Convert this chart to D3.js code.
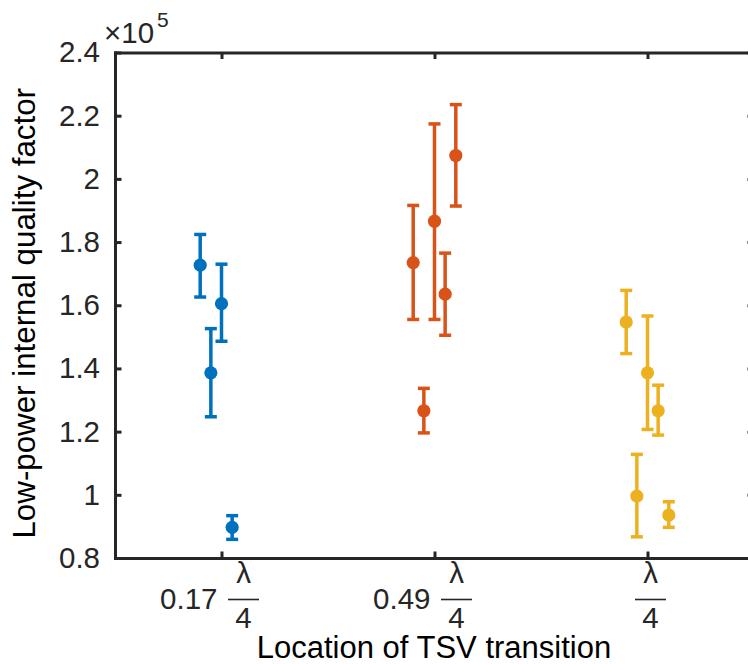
<!DOCTYPE html>
<html>
<head>
<meta charset="utf-8">
<script src="https://cdn.jsdelivr.net/npm/d3@7"></script>
<style>
  html, body { margin: 0; padding: 0; background: #fff; }
  svg { display: block; font-family: "Liberation Sans", Arial, Helvetica, sans-serif; }
</style>
</head>
<body>
<svg id="chart" width="748" height="664"></svg>
<script>
// Category positions on the x axis and their tick labels (coefficient × λ/4)
const categories = [1, 2, 3];
const tickCoefficients = ["0.17", "0.49", ""];
const yTicks = [0.8, 1, 1.2, 1.4, 1.6, 1.8, 2, 2.2, 2.4];

// Quality factor values in units of 1e5; offsets spread resonators within a category
const blueOffsets = [-0.1, -0.05, 0, 0.05];
const blueMean = [1.727, 1.386, 1.605, 0.897];
const blueLow  = [1.626, 1.247, 1.486, 0.859];
const blueHigh = [1.824, 1.526, 1.730, 0.934];

const orangeOffsets = [-0.1, -0.05, 0, 0.05, 0.1];
const orangeMean = [1.735, 1.266, 1.866, 1.635, 2.074];
const orangeLow  = [1.555, 1.196, 1.555, 1.505, 1.914];
const orangeHigh = [1.916, 1.337, 2.174, 1.765, 2.235];

const yellowOffsets = [-0.1, -0.05, 0, 0.05, 0.1];
const yellowMean = [1.547, 0.996, 1.386, 1.266, 0.936];
const yellowLow  = [1.447, 0.867, 1.207, 1.189, 0.897];
const yellowHigh = [1.647, 1.128, 1.566, 1.347, 0.978];

const series = [
  { cat: 1, color: "#0072BD", off: blueOffsets,   mean: blueMean,   lo: blueLow,   hi: blueHigh },
  { cat: 2, color: "#D95319", off: orangeOffsets, mean: orangeMean, lo: orangeLow, hi: orangeHigh },
  { cat: 3, color: "#EDB120", off: yellowOffsets, mean: yellowMean, lo: yellowLow, hi: yellowHigh }
];

const axisColor = "#262626";
const tickFont = 29.5;
const plotLeft = 115, plotRight = 754, plotTop = 52.5, plotBottom = 558;

const svg = d3.select("#chart");
const x = d3.scaleLinear().domain([0.5, 3.5]).range([plotLeft, plotRight]);
const y = d3.scaleLinear().domain([0.8, 2.4]).range([plotBottom, plotTop]);

// Error bars and markers
series.forEach(s => {
  const pts = s.mean.map((m, i) => ({ x: s.cat + s.off[i], m, lo: s.lo[i], hi: s.hi[i] }));
  const g = svg.append("g").attr("stroke", s.color).attr("fill", s.color);
  const capHalf = 6;
  pts.forEach(p => {
    const px = x(p.x);
    g.append("line").attr("x1", px).attr("x2", px).attr("y1", y(p.lo)).attr("y2", y(p.hi)).attr("stroke-width", 3.5);
    g.append("line").attr("x1", px - capHalf).attr("x2", px + capHalf).attr("y1", y(p.lo)).attr("y2", y(p.lo)).attr("stroke-width", 3.5);
    g.append("line").attr("x1", px - capHalf).attr("x2", px + capHalf).attr("y1", y(p.hi)).attr("y2", y(p.hi)).attr("stroke-width", 3.5);
  });
  g.selectAll("circle").data(pts).enter().append("circle")
    .attr("cx", d => x(d.x)).attr("cy", d => y(d.m)).attr("r", 6.6).attr("stroke", "none");
});

// Axes: box with inward ticks on all four sides
function styleAxis(g) {
  g.select(".domain").attr("stroke", axisColor).attr("stroke-width", 3).attr("stroke-linecap", "square");
  g.selectAll(".tick line").attr("stroke", axisColor).attr("stroke-width", 3);
}
const tickLen = 6.5;
svg.append("g").attr("transform", `translate(${plotLeft},0)`)
  .call(d3.axisLeft(y).tickValues(yTicks).tickSizeInner(-tickLen).tickSizeOuter(0).tickPadding(15).tickFormat(d3.format("~g")))
  .call(styleAxis)
  .call(g => g.selectAll(".tick text").attr("fill", axisColor).attr("font-size", tickFont).attr("font-family", "Liberation Sans, Arial, sans-serif"));
svg.append("g").attr("transform", `translate(${plotRight},0)`)
  .call(d3.axisRight(y).tickValues(yTicks).tickSizeInner(-tickLen).tickSizeOuter(0).tickFormat(""))
  .call(styleAxis);
svg.append("g").attr("transform", `translate(0,${plotBottom})`)
  .call(d3.axisBottom(x).tickValues(categories).tickSizeInner(-tickLen).tickSizeOuter(0).tickFormat(""))
  .call(styleAxis);
svg.append("g").attr("transform", `translate(0,${plotTop})`)
  .call(d3.axisTop(x).tickValues(categories).tickSizeInner(-tickLen).tickSizeOuter(0).tickFormat(""))
  .call(styleAxis);

// Bottom tick labels: optional coefficient followed by the fraction λ/4
categories.forEach((c, i) => {
  const coef = tickCoefficients[i];
  const fracCx = x(c) + (coef ? 22 : 3);
  const g = svg.append("g").attr("fill", axisColor).attr("font-size", tickFont);
  if (coef) {
    g.append("text").attr("x", fracCx - 26).attr("y", 609).attr("text-anchor", "end").text(coef);
  }
  g.append("text").attr("x", fracCx).attr("y", 583).attr("text-anchor", "middle").text("λ");
  g.append("line").attr("x1", fracCx - 15.5).attr("x2", fracCx + 15.5).attr("y1", 599.5).attr("y2", 599.5)
    .attr("stroke", axisColor).attr("stroke-width", 1.6);
  g.append("text").attr("x", fracCx).attr("y", 628).attr("text-anchor", "middle").text("4");
});

// Exponent multiplier above the y axis
const mult = svg.append("text").attr("x", 104).attr("y", 43).attr("fill", axisColor).attr("font-size", tickFont);
mult.append("tspan").text("×10");
mult.append("tspan").attr("font-size", 21).attr("dy", -16).attr("dx", 3).text("5");

// Axis titles
svg.append("text").attr("x", (plotLeft + 754) / 2 - 0.5).attr("y", 657.5).attr("text-anchor", "middle")
  .attr("fill", "#000").attr("font-size", 31).text("Location of TSV transition");
svg.append("text").attr("transform", `translate(35,${(plotTop + plotBottom) / 2 + 8}) rotate(-90)`)
  .attr("text-anchor", "middle").attr("fill", "#000").attr("font-size", 31.3)
  .text("Low-power internal quality factor");
</script>
</body>
</html>
